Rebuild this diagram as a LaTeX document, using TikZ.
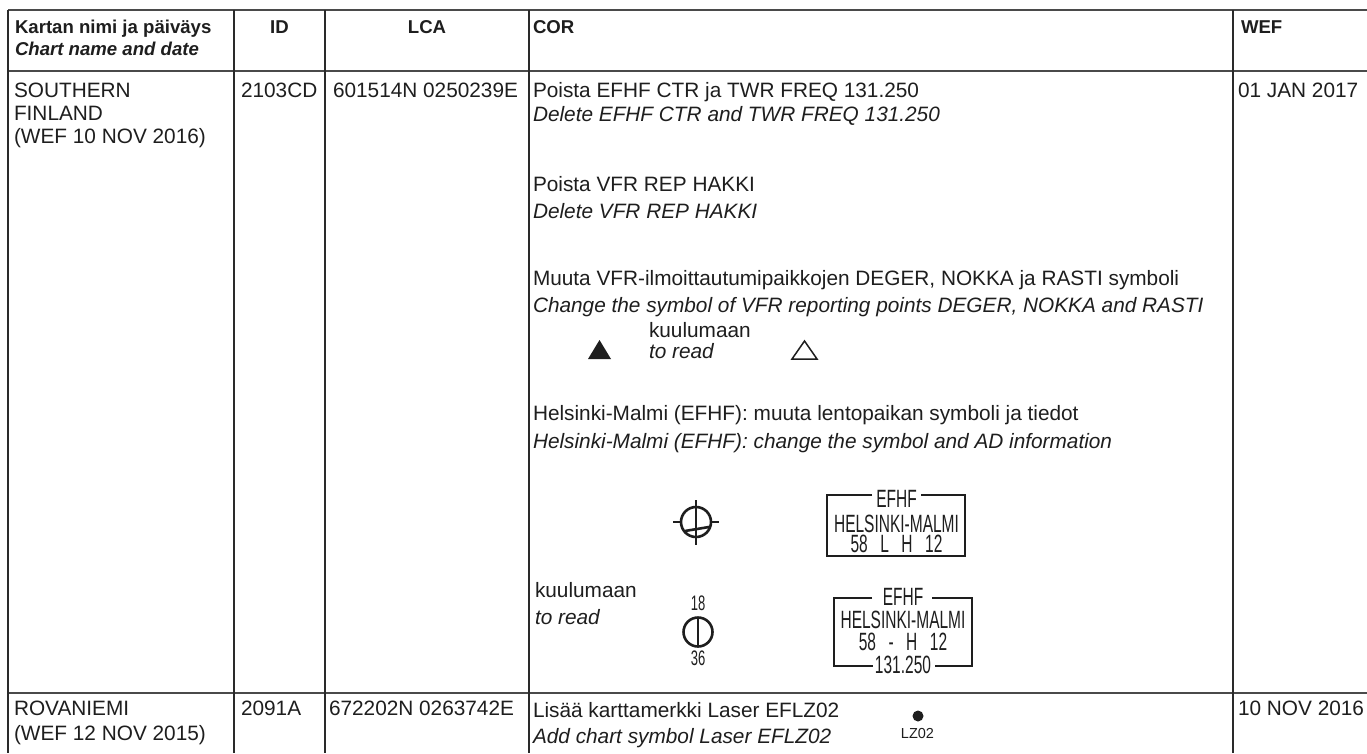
\documentclass[tikz,border=0pt]{standalone}
\usepackage{fontspec}
\setmainfont{Liberation Sans}
\newfontfamily\narrowfont[FakeStretch=0.62]{Liberation Sans}
\definecolor{txt}{HTML}{1E1E1E}
\definecolor{hl}{HTML}{4A4A4A}
\definecolor{vl}{HTML}{2A2A2A}
\begin{document}
\begin{tikzpicture}[x=1pt,y=-1pt,
  every node/.style={inner sep=0pt, outer sep=0pt, text=txt},
  body/.style={anchor=base west, font=\fontsize{20.8}{24}\selectfont},
  ibody/.style={anchor=base west, font=\fontsize{20.8}{24}\selectfont\itshape},
  head/.style={anchor=base west, font=\fontsize{18.6}{22}\selectfont\bfseries},
  ihead/.style={anchor=base west, font=\fontsize{18.6}{22}\selectfont\bfseries\itshape},
  hrule/.style={draw=hl, line width=2.2pt},
  vrule/.style={draw=vl, line width=1.4pt},
  sym/.style={anchor=base, font=\fontsize{25}{25}\narrowfont},
  rwy/.style={anchor=base, font=\fontsize{21}{21}\narrowfont},
  symline/.style={draw=txt, line width=2.6pt},
]
\useasboundingbox (0,0) rectangle (1367,753);
\fill[white] (0,0) rectangle (1367,753);
% grid
\draw[hrule] (8,10) -- (1367,10);
\draw[hrule] (8,71) -- (1367,71);
\draw[hrule] (8,693) -- (1367,693);
\foreach \xx in {8,234,325,529,1233} \draw[vrule] (\xx,10) -- (\xx,753);
% header
\node[head] (h1) at (15,33) {Kartan nimi ja päiväys};
\node[ihead] (h1b) at (15,55) {Chart name and date};
\node[head, anchor=base] (h2) at (279.5,33) {ID};
\node[head, anchor=base] (h3) at (427,33) {LCA};
\node[head] (h4) at (533,33) {COR};
\node[head] (h5) at (1241,33) {WEF};
% row 2
\node[body] (a1) at (14,97) {SOUTHERN};
\node[body] (a2) at (14,120) {FINLAND};
\node[body] (a3) at (14,143) {(WEF 10 NOV 2016)};
\node[body] (b1) at (241,97) {2103CD};
\node[body] (c1) at (333,97) {601514N 0250239E};
\node[body] (d1) at (533,97) {Poista EFHF CTR ja TWR FREQ 131.250};
\node[ibody] (d2) at (533,121) {Delete EFHF CTR and TWR FREQ 131.250};
\node[body] (d3) at (533,191) {Poista VFR REP HAKKI};
\node[ibody] (d4) at (533,218) {Delete VFR REP HAKKI};
\node[body] (d5) at (533,285) {Muuta VFR-ilmoittautumipaikkojen DEGER, NOKKA ja RASTI symboli};
\node[ibody] (d6) at (533,312) {Change the symbol of VFR reporting points DEGER, NOKKA and RASTI};
\node[body] (d7) at (649,337) {kuulumaan};
\node[ibody] (d8) at (649,358) {to read};
\fill[txt] (588,359) -- (611,359) -- (599.5,340) -- cycle;
\draw[txt, line width=1.5pt, line join=miter] (792,359) -- (817,359) -- (804.5,341) -- cycle;
\node[body] (d9) at (533,420) {Helsinki-Malmi (EFHF): muuta lentopaikan symboli ja tiedot};
\node[ibody] (d10) at (533,448) {Helsinki-Malmi (EFHF): change the symbol and AD information};
% old AD symbol
\draw[symline] (696,522) circle (15pt);
\draw[symline] (696,500) -- (696,545);
\draw[symline] (673,522) -- (681,522);
\draw[symline] (711,522) -- (719,522);
\draw[symline] (685,531) -- (709,527);
% old box
\draw[draw=txt, line width=2.5pt] (872,495) -- (827,495) -- (827,556) -- (965,556) -- (965,495) -- (921,495);
\node[sym] (e1) at (896.5,507) {EFHF};
\node[sym] (e2) at (896.5,532) {HELSINKI-MALMI};
\node[sym] (e3) at (896.5,552) {58\enspace L\enspace H\enspace 12};
% to read
\node[body] (d11) at (535,597) {kuulumaan};
\node[ibody] (d12) at (535,624) {to read};
\node[rwy] (r1) at (698,610) {18};
\draw[symline] (698,632) circle (14.5pt);
\draw[symline] (698,617) -- (698,647);
\node[rwy] (r2) at (698,665) {36};
\draw[draw=txt, line width=2.5pt] (872,598) -- (834,598) -- (834,666) -- (873,666);
\draw[draw=txt, line width=2.5pt] (935,666) -- (972,666) -- (972,598) -- (932,598);
\node[sym] (f1) at (903,605) {EFHF};
\node[sym] (f2) at (903,628) {HELSINKI-MALMI};
\node[sym] (f3) at (903,650) {58\enspace -\enspace H\enspace 12};
\node[sym] (f4) at (903,673) {131.250};
% WEF
\node[body] (w1) at (1238,97) {01 JAN 2017};
% row 3
\node[body] (g1) at (14,715) {ROVANIEMI};
\node[body] (g2) at (14,740) {(WEF 12 NOV 2015)};
\node[body] (g3) at (241,715) {2091A};
\node[body] (g4) at (329,715) {672202N 0263742E};
\node[body] (g5) at (533,717) {Lisää karttamerkki Laser EFLZ02};
\node[ibody] (g6) at (533,743) {Add chart symbol Laser EFLZ02};
\fill[txt] (918,716) circle (5.5pt);
\node[anchor=base, font=\fontsize{14.5}{15}\selectfont] (lz) at (917.5,738) {LZ02};
\node[body] (w2) at (1238,715) {10 NOV 2016};
\end{tikzpicture}
\end{document}
